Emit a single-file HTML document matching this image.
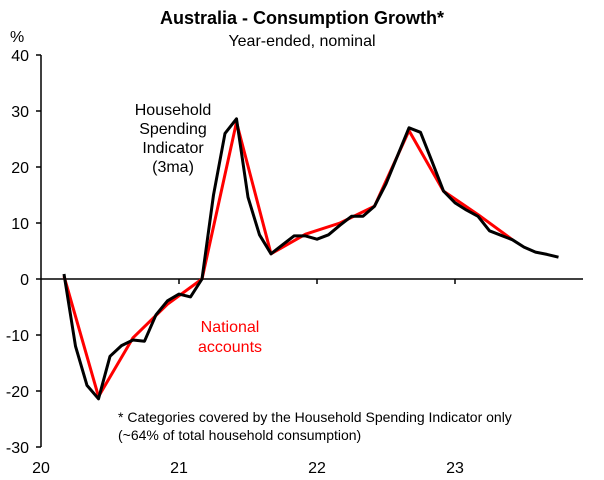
<!DOCTYPE html>
<html><head><meta charset="utf-8"><style>
body{margin:0;background:#fff;}
svg{display:block;font-family:"Liberation Sans",Arial,sans-serif;}
</style></head><body>
<svg id="chart" width="604" height="480">
<text x="302" y="24" text-anchor="middle" font-size="18" font-weight="bold">Australia - Consumption Growth*</text>
<text x="302" y="46" text-anchor="middle" font-size="16">Year-ended, nominal</text>
<text x="10" y="42" font-size="16">%</text>
<g id="axes"></g>
<g id="series"></g>
<g font-size="16" text-anchor="middle">
<text x="173" y="115">Household</text><text x="173" y="134">Spending</text><text x="173" y="153">Indicator</text><text x="173" y="172">(3ma)</text></g>
<g font-size="16" text-anchor="middle" fill="#ff0000">
<text x="230" y="332">National</text><text x="230" y="352">accounts</text></g>
<g font-size="14">
<text x="118" y="422">* Categories covered by the Household Spending Indicator only</text>
<text x="118" y="440">(~64% of total household consumption)</text></g>
</svg>
<script>
const yTicks=[40,30,20,10,0,-10,-20,-30];
const xYears=["20","21","22","23"];
const hsiMonths=[2,3,4,5,6,7,8,9,10,11,12,13,14,15,16,17,18,19,20,21,22,23,24,25,26,27,28,29,30,31,32,33,34,35,36,37,38,39,40,41,42,43,44,45];
const hsiValues=[0.9,-12,-19,-21.4,-13.8,-11.9,-10.9,-11.1,-6.4,-3.9,-2.7,-3.2,0,15,26,28.6,14.6,7.9,4.5,6.1,7.7,7.7,7.1,7.9,9.6,11.2,11.2,13,17,22,27,26.2,21,15.7,13.6,12.3,11.2,8.6,7.8,7,5.7,4.8,4.4,3.9];
const naMonths=[2,5,8,11,14,17,20,23,26,29,32,35,38,41];
const naValues=[0.5,-21,-10.5,-4.5,0,28,4.5,8,10,13,26.5,15.7,11.5,7];
const x0=41,monthW=11.5,yZero=279,perUnit=5.6,xEnd=583;
const xScale=m=>x0+m*monthW;
const yScale=v=>yZero-v*perUnit;
const NS="http://www.w3.org/2000/svg";
const axes=document.getElementById('axes'),series=document.getElementById('series');
function mk(tag,attrs,parent){const e=document.createElementNS(NS,tag);for(const k in attrs)e.setAttribute(k,attrs[k]);parent.appendChild(e);return e;}
let yl=mk('line',{x1:x0,x2:x0,y1:yScale(40),y2:yScale(-30),stroke:'#000','stroke-width':1.5},axes);


yTicks.forEach(v=>{
 const t=mk('line',{x1:x0-5,x2:x0,y1:yScale(v),y2:yScale(v),stroke:'#000','stroke-width':1.5},axes);
 
 
 const l=mk('text',{x:x0-12,y:yScale(v)+6,'text-anchor':'end','font-size':16},axes);
 l.textContent=v;
 
 
});
let xl=mk('line',{x1:x0,x2:xEnd,y1:yZero,y2:yZero,stroke:'#000','stroke-width':1.5},axes);


xYears.forEach((y,i)=>{
 const x=xScale(i*12);
 if(i>0){const t=mk('line',{x1:x,x2:x,y1:yZero,y2:yZero+5,stroke:'#000','stroke-width':1.5},axes);
 
 }
 const l=mk('text',{x:x,y:473,'text-anchor':'middle','font-size':16},axes);
 l.textContent=y;
 
 
});
const pts=(ms,vs)=>ms.map((m,i)=>xScale(m).toFixed(1)+','+yScale(vs[i]).toFixed(1)).join(' ');
const na=mk('polyline',{points:pts(naMonths,naValues),fill:'none',stroke:'#ff0000','stroke-width':3,'stroke-linejoin':'round'},series);


const h=mk('polyline',{points:pts(hsiMonths,hsiValues),fill:'none',stroke:'#000','stroke-width':3,'stroke-linejoin':'round'},series);


</script>
</body></html>
